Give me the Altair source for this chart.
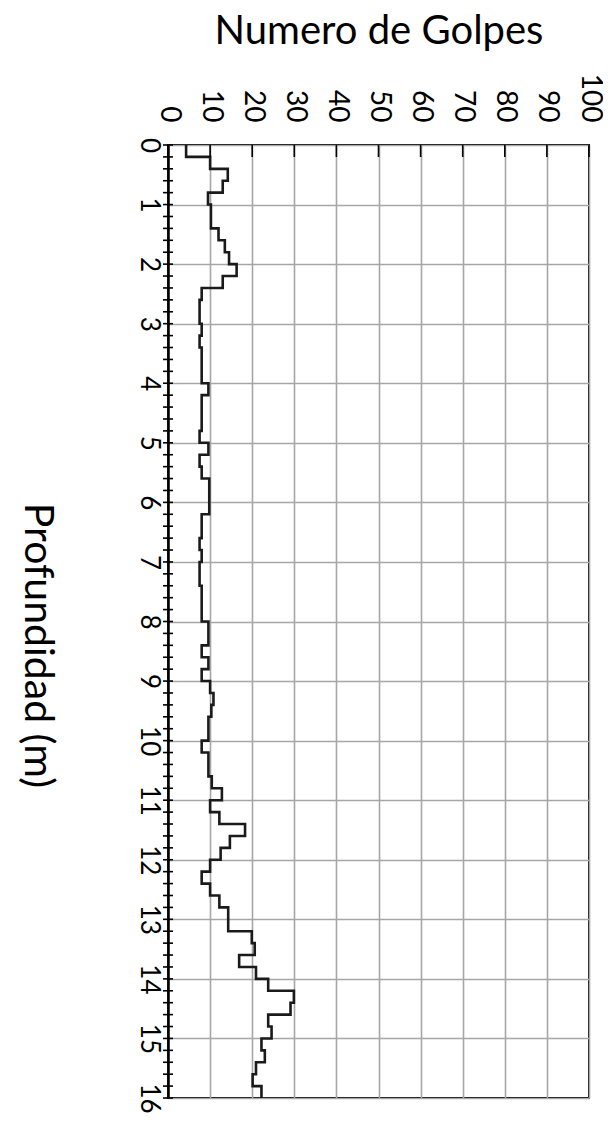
import altair as alt
import pandas as pd

FONT = "Lato"

# Top depth (m) of each step and its blow count (Numero de Golpes)
depth_tops = [0.0, 0.2, 0.4, 0.6, 0.8, 1.0, 1.4, 1.6, 1.8, 2.0, 2.2, 2.4, 2.6,
              3.0, 3.2, 3.4, 4.0, 4.2, 4.8, 5.0, 5.2, 5.4, 5.6, 6.2, 6.6, 6.8,
              7.0, 7.4, 8.0, 8.4, 8.6, 8.8, 9.0, 9.2, 9.4, 9.6, 10.0, 10.2,
              10.6, 10.8, 11.0, 11.2, 11.4, 11.6, 11.8, 12.0, 12.2, 12.4, 12.6,
              12.8, 13.2, 13.4, 13.6, 13.8, 14.0, 14.2, 14.4, 14.6, 14.8, 15.0,
              15.2, 15.4, 15.6, 15.8]
golpes = [4.3, 10, 14.2, 13, 9.5, 10.2, 12, 13.5, 14.5, 16.3, 13, 8, 7.5,
          8, 7.5, 8, 9.6, 8, 7.5, 9.6, 7.5, 8, 9.8, 8, 7.5, 8,
          7.5, 8, 9.6, 8, 9.6, 8, 10, 10.8, 10.3, 9.6, 8, 9.6,
          10.4, 12.8, 10, 12.2, 18.3, 14.7, 12.5, 10, 8, 10, 12.2,
          14.3, 19.9, 20.6, 16.9, 20.9, 23.8, 29.9, 29.1, 23.8, 24.6, 22.2,
          23, 20.9, 20.1, 22.2]
max_depth = 16.0

x_ticks = [0, 10, 20, 30, 40, 50, 60, 70, 80, 90, 100]
y_ticks = list(range(17))
minor_depths = [round(i * 0.2, 1) for i in range(81)]

df_line = pd.DataFrame({"depth": depth_tops + [max_depth],
                        "golpes": golpes + [golpes[-1]]})
df_minor = pd.DataFrame({"depth": minor_depths})
df_top = pd.DataFrame({"golpes": x_ticks})

W, H = 421, 953

x_axis = alt.Axis(
    orient="top", values=x_ticks, title="Numero de Golpes",
    titleFont=FONT, titleFontSize=40, titleFontWeight="normal", titleColor="black",
    titleX=W / 2, titleY=-102, titleAlign="center", titleBaseline="alphabetic",
    labelAngle=90, labelAlign="right", labelBaseline="middle",
    labelFont=FONT, labelFontSize=28, labelColor="black", labelPadding=23,
    labelFlush=False, labelOverlap=False,
    ticks=False, tickSize=0, domain=False,
    grid=True, gridColor="#a6a6a6", gridWidth=1.6,
)
y_axis = alt.Axis(
    values=y_ticks, title="Profundidad (m)",
    titleFont=FONT, titleFontSize=41, titleFontWeight="normal", titleColor="black",
    titleAngle=90, titleX=-132, titleY=500, titleAlign="center", titleBaseline="middle",
    labelAngle=90, labelAlign="center", labelBaseline="top",
    labelFont=FONT, labelFontSize=26, labelColor="black", labelPadding=7,
    labelFlush=False, labelOverlap=False,
    ticks=False, tickSize=0, domain=True, domainColor="black", domainWidth=2.5,
    grid=True, gridColor="#a6a6a6", gridWidth=1.6,
)

X = alt.X("golpes:Q", scale=alt.Scale(domain=[0, 100], nice=False, zero=False), axis=x_axis)
Y = alt.Y("depth:Q", scale=alt.Scale(domain=[0, 16], nice=False, reverse=True), axis=y_axis)

line = alt.Chart(df_line).mark_line(
    interpolate="step-before", color="#1a1a1a", strokeWidth=2.6
).encode(x=X, y=Y, order="depth:Q")

left_ticks = alt.Chart(df_minor).mark_rule(color="black", strokeWidth=1.6).encode(
    y=Y, x=alt.value(-5), x2=alt.value(5)
)

top_ticks = alt.Chart(df_top).mark_rule(color="black", strokeWidth=1.6).encode(
    x=X, y=alt.value(0), y2=alt.value(12)
)

chart = alt.layer(line, left_ticks, top_ticks).properties(
    width=W, height=H,
    autosize=alt.AutoSizeParams(type="none"),
    padding={"left": 160, "top": 137, "right": 14, "bottom": 16},
).configure_view(stroke="black", strokeWidth=2)

chart.save("out.html", embed_options={"renderer": "svg", "actions": False})
